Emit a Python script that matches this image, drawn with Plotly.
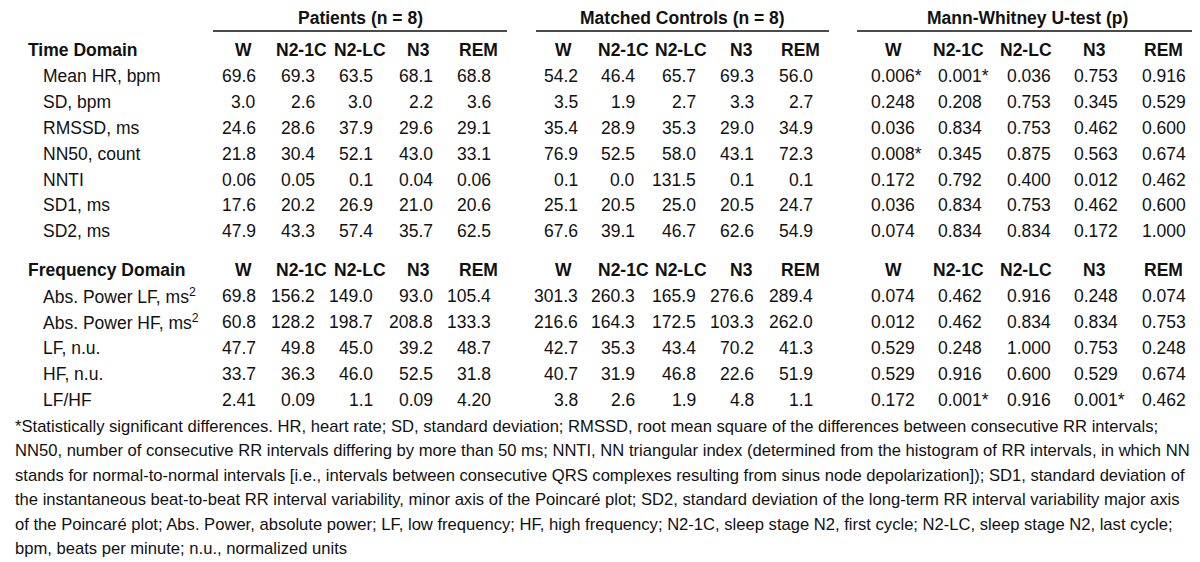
import plotly.graph_objects as go

# ---------------- data ----------------
stages = ["W", "N2-1C", "N2-LC", "N3", "REM"]
group_titles = ["Patients (n = 8)", "Matched Controls (n = 8)", "Mann-Whitney U-test (p)"]

time_title = "Time Domain"
time_labels = ["Mean HR, bpm", "SD, bpm", "RMSSD, ms", "NN50, count", "NNTI", "SD1, ms", "SD2, ms"]
time_patients = [
    ["69.6", "69.3", "63.5", "68.1", "68.8"],
    ["3.0", "2.6", "3.0", "2.2", "3.6"],
    ["24.6", "28.6", "37.9", "29.6", "29.1"],
    ["21.8", "30.4", "52.1", "43.0", "33.1"],
    ["0.06", "0.05", "0.1", "0.04", "0.06"],
    ["17.6", "20.2", "26.9", "21.0", "20.6"],
    ["47.9", "43.3", "57.4", "35.7", "62.5"],
]
time_controls = [
    ["54.2", "46.4", "65.7", "69.3", "56.0"],
    ["3.5", "1.9", "2.7", "3.3", "2.7"],
    ["35.4", "28.9", "35.3", "29.0", "34.9"],
    ["76.9", "52.5", "58.0", "43.1", "72.3"],
    ["0.1", "0.0", "131.5", "0.1", "0.1"],
    ["25.1", "20.5", "25.0", "20.5", "24.7"],
    ["67.6", "39.1", "46.7", "62.6", "54.9"],
]
time_p = [
    ["0.006*", "0.001*", "0.036", "0.753", "0.916"],
    ["0.248", "0.208", "0.753", "0.345", "0.529"],
    ["0.036", "0.834", "0.753", "0.462", "0.600"],
    ["0.008*", "0.345", "0.875", "0.563", "0.674"],
    ["0.172", "0.792", "0.400", "0.012", "0.462"],
    ["0.036", "0.834", "0.753", "0.462", "0.600"],
    ["0.074", "0.834", "0.834", "0.172", "1.000"],
]

freq_title = "Frequency Domain"
freq_labels = ["Abs. Power LF, ms<sup>2</sup>", "Abs. Power HF, ms<sup>2</sup>", "LF, n.u.", "HF, n.u.", "LF/HF"]
freq_patients = [
    ["69.8", "156.2", "149.0", "93.0", "105.4"],
    ["60.8", "128.2", "198.7", "208.8", "133.3"],
    ["47.7", "49.8", "45.0", "39.2", "48.7"],
    ["33.7", "36.3", "46.0", "52.5", "31.8"],
    ["2.41", "0.09", "1.1", "0.09", "4.20"],
]
freq_controls = [
    ["301.3", "260.3", "165.9", "276.6", "289.4"],
    ["216.6", "164.3", "172.5", "103.3", "262.0"],
    ["42.7", "35.3", "43.4", "70.2", "41.3"],
    ["40.7", "31.9", "46.8", "22.6", "51.9"],
    ["3.8", "2.6", "1.9", "4.8", "1.1"],
]
freq_p = [
    ["0.074", "0.462", "0.916", "0.248", "0.074"],
    ["0.012", "0.462", "0.834", "0.834", "0.753"],
    ["0.529", "0.248", "1.000", "0.753", "0.248"],
    ["0.529", "0.916", "0.600", "0.529", "0.674"],
    ["0.172", "0.001*", "0.916", "0.001*", "0.462"],
]

footnote_lines = [
    "*Statistically significant differences. HR, heart rate; SD, standard deviation; RMSSD, root mean square of the differences between consecutive RR intervals;",
    "NN50, number of consecutive RR intervals differing by more than 50 ms; NNTI, NN triangular index (determined from the histogram of RR intervals, in which NN",
    "stands for normal-to-normal intervals [i.e., intervals between consecutive QRS complexes resulting from sinus node depolarization]); SD1, standard deviation of",
    "the instantaneous beat-to-beat RR interval variability, minor axis of the Poincaré plot; SD2, standard deviation of the long-term RR interval variability major axis",
    "of the Poincaré plot; Abs. Power, absolute power; LF, low frequency; HF, high frequency; N2-1C, sleep stage N2, first cycle; N2-LC, sleep stage N2, last cycle;",
    "bpm, beats per minute; n.u., normalized units",
]

# ---------------- layout (pixel positions) ----------------
W, H = 1200, 562
FONT = "Liberation Sans, Arial, sans-serif"
FS = 17.5
FS_FOOT = 16.6
BLACK = "#111111"

pat_right = [250, 309, 367, 427, 485]
pat_head = [235, 293, 352, 410, 470]
ctl_right = [572, 629, 690, 748, 807]
ctl_head = [555, 615, 673, 733, 792]
p_left = [861, 928, 997, 1064, 1132]
p_head = [885, 950, 1018, 1086, 1155]
group_lines = [(205, 499), (528, 821), (849, 1190)]

y_group = 10
y_line = 23
y_time_head = 42
row_step = 25.9
y_freq_head = 262
foot_y0 = 418
foot_step = 24.5

fig = go.Figure()
ann = []
shapes = []


def txt(x, y, s, anchor="left", bold=False, size=FS):
    if bold:
        s = "<b>" + s + "</b>"
    ann.append(dict(x=x, y=y, xref="x", yref="y", text=s, showarrow=False,
                    xanchor=anchor, yanchor="middle",
                    font=dict(family=FONT, size=size, color=BLACK)))


for (x0, x1), t in zip(group_lines, group_titles):
    txt((x0 + x1) / 2, y_group, t, anchor="center", bold=True)
    shapes.append(dict(type="line", xref="x", yref="y", x0=x0, x1=x1, y0=y_line, y1=y_line,
                       line=dict(color=BLACK, width=1.6)))


def section(y_head, title, labels, pats, ctls, ps):
    txt(18, y_head, title, bold=True)
    for i, s in enumerate(stages):
        txt(pat_head[i], y_head, s, anchor="center", bold=True)
        txt(ctl_head[i], y_head, s, anchor="center", bold=True)
        txt(p_head[i], y_head, s, anchor="center", bold=True)
    for r, lab in enumerate(labels):
        y = y_head + row_step * (r + 1)
        txt(33, y, lab)
        for i in range(5):
            txt(pat_right[i], y, pats[r][i], anchor="right")
            txt(ctl_right[i], y, ctls[r][i], anchor="right")
            txt(p_left[i], y, ps[r][i], anchor="left")


section(y_time_head, time_title, time_labels, time_patients, time_controls, time_p)
section(y_freq_head, freq_title, freq_labels, freq_patients, freq_controls, freq_p)

for k, line in enumerate(footnote_lines):
    txt(5, foot_y0 + foot_step * k, line, size=FS_FOOT)

fig.update_layout(
    width=W, height=H,
    margin=dict(l=0, r=0, t=0, b=0),
    paper_bgcolor="white", plot_bgcolor="white",
    xaxis=dict(range=[0, W], visible=False, fixedrange=True),
    yaxis=dict(range=[H, 0], visible=False, fixedrange=True),
    annotations=ann, shapes=shapes, showlegend=False,
)
fig.write_html("out.html")
